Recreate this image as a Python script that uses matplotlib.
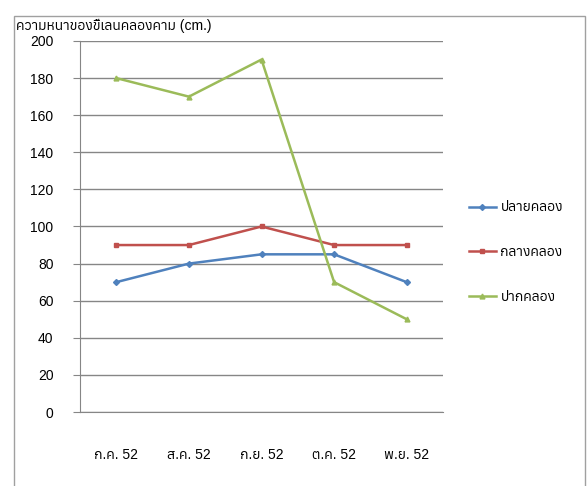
import matplotlib
matplotlib.use('Agg')
import matplotlib.pyplot as plt
from matplotlib.patches import Rectangle
from matplotlib import font_manager as fm
from matplotlib.ft2font import FT2Font

# %% data
months = ['ก.ค. 52', 'ส.ค. 52', 'ก.ย. 52', 'ต.ค. 52', 'พ.ย. 52']
tail = [70, 80, 85, 85, 70]       # ปลายคลอง
middle = [90, 90, 100, 90, 90]    # กลางคลอง
mouth = [180, 170, 190, 70, 50]   # ปากคลอง
names = ['ปลายคลอง', 'กลางคลอง', 'ปากคลอง']

# %% pick a font that has thai glyphs (prefer a proportional one)
thai = []
for f in fm.findSystemFonts():
    try:
        if 0x0E01 in FT2Font(f).get_charmap():
            thai.append(fm.FontProperties(fname=f).get_name())
    except Exception:
        pass
thai = sorted(set(thai), key=lambda n: ('Mono' in n, n))
plt.rcParams['font.family'] = ['Liberation Sans'] + thai[:1] + ['DejaVu Sans']

fig = plt.figure(figsize=(5.87, 4.86), dpi=100)
ax = fig.add_axes([80/587, 1 - 412/486, 363/587, 371/486])

x = range(len(months))
ax.plot(x, tail, color='#4F81BD', lw=1.8, marker='D', ms=3, label=names[0])
ax.plot(x, middle, color='#C0504D', lw=1.8, marker='s', ms=3.5, label=names[1])
ax.plot(x, mouth, color='#9BBB59', lw=1.8, marker='^', ms=3.5, label=names[2])

ax.set_xlim(-0.5, 4.5)
ax.set_ylim(0, 200)
ax.set_yticks(range(0, 201, 20))
ax.set_xticks(list(x))
ax.set_xticklabels(months, fontsize=10)
ax.tick_params(axis='y', labelsize=10, length=5, color='#868686', pad=14)
ax.tick_params(axis='x', length=0, pad=26)
ax.grid(axis='y', color='#868686', lw=1)
ax.set_axisbelow(True)
for s in ['top', 'right']:
    ax.spines[s].set_visible(False)
ax.spines['left'].set_color('#868686')
ax.spines['bottom'].set_color('#868686')

fig.text(16/587, 1 - 30/486, 'ความหนาของขี้เลนคลองคาม (cm.)', fontsize=10)

ax.legend(loc='center left', bbox_to_anchor=(456/587, 1 - 252/486),
          bbox_transform=fig.transFigure, frameon=False, fontsize=10,
          handlelength=2.0, handletextpad=0.3, labelspacing=2.2)

fig.patches.append(Rectangle((14/587, -0.01), 571/587, 1 - 16/486 + 0.01,
                             transform=fig.transFigure, fill=False,
                             ec='#a0a0a0', lw=1))

fig.savefig('out.png', dpi=100)
